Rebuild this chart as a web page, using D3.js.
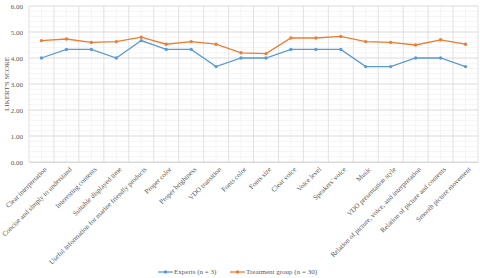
<!DOCTYPE html>
<html>
<head>
<meta charset="utf-8">
<script src="https://cdn.jsdelivr.net/npm/d3@7"></script>
<style>
  body { margin: 0; background: #fff; }
  svg text { font-family: "Liberation Serif", "Times New Roman", serif; fill: #595959; }
</style>
</head>
<body>
<svg id="chart" width="480" height="278"></svg>
<script>
// Categories
const categories = [
  "Clear interpretation",
  "Concise and simply to understand",
  "Interesting contents",
  "Suitable displayed time",
  "Useful information for marine friendly products",
  "Proper color",
  "Proper brightness",
  "VDO transition",
  "Fonts color",
  "Fonts size",
  "Clear voice",
  "Voice level",
  "Speakers' voice",
  "Music",
  "VDO presentation style",
  "Relation of picture, voice, and interpretation",
  "Relation of picture and contents",
  "Smooth picture movement",
];

// Series values
const experts = [4.0, 4.33, 4.33, 4.0, 4.67, 4.33, 4.33, 3.67, 4.0, 4.0, 4.33, 4.33, 4.33, 3.67, 3.67, 4.0, 4.0, 3.67];
const treatment = [4.67, 4.73, 4.6, 4.63, 4.8, 4.53, 4.63, 4.53, 4.2, 4.17, 4.77, 4.77, 4.83, 4.63, 4.6, 4.5, 4.7, 4.53];

const yTicks = [0, 1, 2, 3, 4, 5, 6];
const seriesNames = ["Experts (n = 3)", "Treatment group (n = 30)"];
const colors = ["#5B9BD5", "#ED7D31"];

// Layout
const margin = { top: 6, right: 2, bottom: 116, left: 29 };
const svg = d3.select("#chart");
const width = 480 - margin.left - margin.right;
const height = 278 - margin.top - margin.bottom;
const ctr = svg.append("g").attr("transform", `translate(${margin.left}, ${margin.top})`);

// Scales
const xScale = d3.scaleBand().domain(categories).range([0, width]);
const yScale = d3.scaleLinear().domain([0, 6]).range([height, 0]);

// Minor gridlines
const minorY = d3.range(0, 6.001, 0.2);
ctr.append("g")
  .selectAll("line")
  .data(minorY)
  .join("line")
  .attr("x1", 0)
  .attr("x2", width)
  .attr("y1", (d) => yScale(d))
  .attr("y2", (d) => yScale(d))
  .attr("stroke", "#f2f2f2")
  .attr("stroke-width", 0.8);

ctr.append("g")
  .selectAll("line")
  .data(categories)
  .join("line")
  .attr("x1", (d) => xScale(d) + xScale.bandwidth() / 2)
  .attr("x2", (d) => xScale(d) + xScale.bandwidth() / 2)
  .attr("y1", 0)
  .attr("y2", height)
  .attr("stroke", "#f2f2f2")
  .attr("stroke-width", 0.8);

// Major gridlines
ctr.append("g")
  .selectAll("line")
  .data(yTicks)
  .join("line")
  .attr("x1", 0)
  .attr("x2", width)
  .attr("y1", (d) => yScale(d))
  .attr("y2", (d) => yScale(d))
  .attr("stroke", "#d9d9d9")
  .attr("stroke-width", 0.8);

ctr.append("g")
  .selectAll("line")
  .data(categories.concat(["end"]))
  .join("line")
  .attr("x1", (d, i) => (i < categories.length ? xScale(d) : width))
  .attr("x2", (d, i) => (i < categories.length ? xScale(d) : width))
  .attr("y1", 0)
  .attr("y2", height)
  .attr("stroke", "#d9d9d9")
  .attr("stroke-width", 0.8);

// Y axis
const yAxis = d3.axisLeft(yScale).tickValues(yTicks).tickFormat(d3.format(".2f")).tickSize(0).tickPadding(6);
const yG = ctr.append("g").call(yAxis);
yG.select(".domain").remove();
yG.selectAll("text").style("font-size", "7px").attr("fill", "#595959");

// X axis
const xAxis = d3.axisBottom(xScale).tickSize(0).tickSizeOuter(0);
const xG = ctr.append("g").attr("transform", `translate(0, ${height})`).call(xAxis);
xG.select(".domain").attr("stroke", "#d9d9d9");
xG.selectAll("text")
  .style("font-size", "7px")
  .attr("fill", "#595959")
  .attr("text-anchor", "end")
  .attr("y", 0)
  .attr("dy", "0.35em")
  .attr("transform", "translate(4, 6) rotate(-45)");

// Y title
svg.append("text")
  .attr("transform", `translate(9, ${margin.top + height / 2}) rotate(-90)`)
  .attr("text-anchor", "middle")
  .style("font-size", "7px")
  .text("LIKERT'S SCORE");

// Lines
const series = [experts, treatment];
const line = d3.line()
  .x((d, i) => xScale(categories[i]) + xScale.bandwidth() / 2)
  .y((d) => yScale(d));

series.forEach((values, k) => {
  ctr.append("path")
    .datum(values)
    .attr("fill", "none")
    .attr("stroke", colors[k])
    .attr("stroke-width", 1.3)
    .attr("d", line);
  ctr.append("g")
    .selectAll("circle")
    .data(values)
    .join("circle")
    .attr("cx", (d, i) => xScale(categories[i]) + xScale.bandwidth() / 2)
    .attr("cy", (d) => yScale(d))
    .attr("r", 1.7)
    .attr("fill", colors[k]);
});

// Legend
const legendX = [158, 230];
const legend = svg.append("g").attr("transform", "translate(0, 272)");
seriesNames.forEach((name, k) => {
  const g = legend.append("g").attr("transform", `translate(${legendX[k]}, 0)`);
  g.append("line").attr("x1", 0).attr("x2", 15).attr("stroke", colors[k]).attr("stroke-width", 1.3);
  g.append("circle").attr("cx", 7.5).attr("r", 1.7).attr("fill", colors[k]);
  g.append("text").attr("x", 16).attr("dy", "0.35em").style("font-size", "7px").text(name);
});
</script>
</body>
</html>
